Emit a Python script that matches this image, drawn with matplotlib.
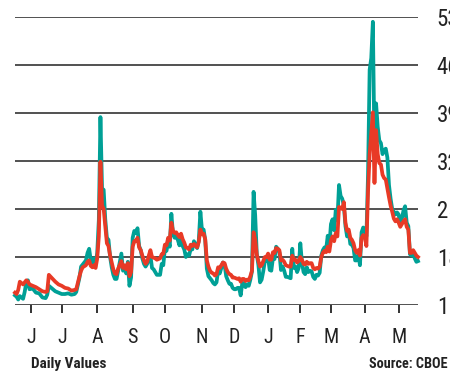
import matplotlib
matplotlib.use("Agg")
import matplotlib.pyplot as plt
import pandas as pd

# Exchange holidays inside the plotted window (x axis counts trading days)
holidays = ["2024-05-27", "2024-06-19", "2024-07-04", "2024-09-02", "2024-11-28",
            "2024-12-25", "2025-01-01", "2025-01-09", "2025-01-20", "2025-02-17",
            "2025-04-18"]

dates = [
    "2024-05-17", "2024-05-20", "2024-05-21", "2024-05-22", "2024-05-24", "2024-05-28",
    "2024-05-29", "2024-05-30", "2024-05-31", "2024-06-04", "2024-06-06", "2024-06-10",
    "2024-06-12", "2024-06-14", "2024-06-17", "2024-06-18", "2024-06-21", "2024-06-25",
    "2024-06-27", "2024-07-01", "2024-07-03", "2024-07-08", "2024-07-10", "2024-07-12",
    "2024-07-15", "2024-07-17", "2024-07-18", "2024-07-19", "2024-07-23", "2024-07-24",
    "2024-07-25", "2024-07-26", "2024-07-29", "2024-07-30", "2024-07-31", "2024-08-01",
    "2024-08-02", "2024-08-05", "2024-08-06", "2024-08-07", "2024-08-08", "2024-08-09",
    "2024-08-12", "2024-08-13", "2024-08-14", "2024-08-15", "2024-08-16", "2024-08-19",
    "2024-08-20", "2024-08-22", "2024-08-23", "2024-08-26", "2024-08-27", "2024-08-28",
    "2024-08-29", "2024-08-30", "2024-09-03", "2024-09-04", "2024-09-05", "2024-09-06",
    "2024-09-09", "2024-09-10", "2024-09-11", "2024-09-12", "2024-09-13", "2024-09-16",
    "2024-09-17", "2024-09-18", "2024-09-19", "2024-09-20", "2024-09-23", "2024-09-24",
    "2024-09-25", "2024-09-26", "2024-09-27", "2024-09-30", "2024-10-01", "2024-10-02",
    "2024-10-03", "2024-10-04", "2024-10-07", "2024-10-08", "2024-10-09", "2024-10-10",
    "2024-10-11", "2024-10-14", "2024-10-15", "2024-10-16", "2024-10-17", "2024-10-18",
    "2024-10-21", "2024-10-22", "2024-10-23", "2024-10-24", "2024-10-25", "2024-10-28",
    "2024-10-29", "2024-10-30", "2024-10-31", "2024-11-01", "2024-11-04", "2024-11-05",
    "2024-11-06", "2024-11-07", "2024-11-08", "2024-11-11", "2024-11-12", "2024-11-13",
    "2024-11-14", "2024-11-15", "2024-11-18", "2024-11-19", "2024-11-20", "2024-11-21",
    "2024-11-22", "2024-11-25", "2024-11-26", "2024-11-27", "2024-11-29", "2024-12-02",
    "2024-12-03", "2024-12-04", "2024-12-05", "2024-12-06", "2024-12-09", "2024-12-10",
    "2024-12-11", "2024-12-12", "2024-12-13", "2024-12-16", "2024-12-17", "2024-12-18",
    "2024-12-19", "2024-12-20", "2024-12-23", "2024-12-24", "2024-12-26", "2024-12-27",
    "2024-12-30", "2024-12-31", "2025-01-02", "2025-01-03", "2025-01-06", "2025-01-07",
    "2025-01-08", "2025-01-10", "2025-01-13", "2025-01-14", "2025-01-15", "2025-01-16",
    "2025-01-17", "2025-01-21", "2025-01-22", "2025-01-23", "2025-01-24", "2025-01-27",
    "2025-01-28", "2025-01-29", "2025-01-30", "2025-01-31", "2025-02-03", "2025-02-04",
    "2025-02-05", "2025-02-06", "2025-02-07", "2025-02-10", "2025-02-11", "2025-02-12",
    "2025-02-13", "2025-02-14", "2025-02-18", "2025-02-19", "2025-02-20", "2025-02-21",
    "2025-02-24", "2025-02-25", "2025-02-26", "2025-02-27", "2025-02-28", "2025-03-03",
    "2025-03-04", "2025-03-05", "2025-03-06", "2025-03-07", "2025-03-10", "2025-03-11",
    "2025-03-12", "2025-03-13", "2025-03-14", "2025-03-17", "2025-03-18", "2025-03-19",
    "2025-03-20", "2025-03-21", "2025-03-24", "2025-03-25", "2025-03-26", "2025-03-27",
    "2025-03-28", "2025-03-31", "2025-04-01", "2025-04-02", "2025-04-03", "2025-04-04",
    "2025-04-07", "2025-04-08", "2025-04-09", "2025-04-10", "2025-04-11", "2025-04-14",
    "2025-04-15", "2025-04-16", "2025-04-17", "2025-04-21", "2025-04-22", "2025-04-23",
    "2025-04-24", "2025-04-25", "2025-04-28", "2025-04-29", "2025-04-30", "2025-05-01",
    "2025-05-02", "2025-05-05", "2025-05-06", "2025-05-07", "2025-05-08", "2025-05-09",
    "2025-05-12", "2025-05-13", "2025-05-14", "2025-05-15", "2025-05-16", "2025-05-19",
]

vix = [
    12.4, 12.2, 11.8, 12.3, 11.9, 12.9, 14.3, 14.6, 13.3, 13.4, 12.8, 12.7,
    12.1, 12.0, 12.5, 13.8, 13.4, 13.0, 12.8, 12.6, 12.6, 12.7, 12.5, 12.6,
    12.9, 15.0, 16.6, 16.9, 17.5, 18.6, 19.2, 17.5, 17.0, 17.8, 16.9, 18.6,
    23.4, 38.4, 28.0, 27.8, 23.5, 20.8, 20.5, 18.0, 16.5, 15.4, 14.8, 14.8,
    16.0, 18.5, 16.0, 16.5, 15.6, 17.3, 13.8, 15.0, 20.8, 21.8, 21.5, 22.2,
    19.6, 19.0, 17.8, 17.0, 16.6, 17.0, 17.6, 18.2, 16.4, 16.2, 15.8, 15.4,
    15.4, 15.4, 17.0, 16.8, 19.3, 18.9, 20.5, 19.5, 24.3, 21.4, 20.8, 21.0,
    20.5, 19.7, 20.6, 19.6, 19.1, 18.0, 18.4, 18.2, 19.2, 19.1, 20.3, 19.8,
    19.3, 20.4, 24.6, 21.9, 22.0, 20.5, 16.3, 15.2, 14.9, 14.6, 14.2, 14.0,
    14.3, 16.0, 15.6, 16.4, 17.2, 16.9, 15.2, 14.6, 14.1, 14.1, 13.5, 13.3,
    13.3, 13.5, 13.5, 12.4, 14.2, 14.2, 13.6, 14.0, 13.8, 14.7, 15.9, 27.5,
    24.1, 18.4, 16.8, 14.3, 14.7, 15.9, 17.4, 17.4, 17.9, 16.1, 16.0, 17.8,
    17.7, 19.5, 19.2, 18.7, 16.1, 16.6, 16.0, 15.1, 15.1, 15.0, 14.9, 19.2,
    16.4, 16.6, 15.8, 16.4, 20.0, 17.2, 15.8, 15.5, 16.5, 15.8, 16.0, 15.9,
    15.1, 14.8, 15.4, 15.3, 15.7, 18.2, 19.0, 19.4, 19.1, 21.1, 19.6, 22.8,
    23.5, 21.9, 24.9, 23.4, 28.5, 26.9, 26.5, 25.5, 22.5, 21.0, 21.7, 19.9,
    19.8, 19.3, 17.5, 17.5, 18.3, 16.8, 21.6, 22.3, 21.8, 21.0, 30.0, 45.3,
    47.0, 52.3, 33.6, 40.4, 37.0, 35.0, 34.6, 33.0, 33.6, 33.8, 32.5, 28.5,
    26.5, 25.0, 24.6, 24.2, 24.5, 24.2, 22.7, 23.6, 24.8, 25.4, 23.0, 22.5,
    18.4, 18.2, 18.6, 17.8, 17.3, 17.4,
]

vix3m = [
    12.8, 12.6, 13.2, 14.4, 14.0, 14.3, 14.6, 14.4, 14.0, 13.8, 13.6, 13.3,
    13.0, 12.9, 13.0, 15.4, 14.9, 14.4, 14.0, 13.8, 13.5, 13.4, 13.1, 13.2,
    13.3, 15.2, 16.0, 16.5, 16.8, 17.3, 17.5, 16.7, 16.5, 16.8, 16.4, 17.8,
    21.0, 31.9, 25.5, 25.0, 22.5, 20.0, 19.6, 18.2, 17.2, 16.2, 15.6, 15.5,
    16.3, 17.4, 16.4, 16.8, 16.2, 17.1, 15.2, 15.8, 19.5, 20.3, 20.3, 20.8,
    19.4, 19.0, 18.2, 17.5, 17.0, 17.3, 18.2, 19.0, 18.0, 17.9, 17.8, 17.6,
    17.7, 17.8, 18.4, 18.5, 19.8, 19.7, 20.8, 20.4, 23.0, 21.8, 21.5, 21.6,
    21.2, 20.9, 21.4, 20.6, 20.1, 19.4, 19.3, 19.1, 19.8, 19.6, 19.9, 19.6,
    19.4, 20.2, 22.0, 21.3, 21.4, 20.6, 17.5, 16.6, 16.0, 15.7, 15.6, 15.3,
    15.5, 16.5, 16.4, 16.8, 17.2, 17.1, 16.3, 15.8, 15.5, 15.4, 15.0, 15.0,
    14.9, 14.8, 14.9, 14.4, 14.8, 14.8, 14.5, 14.7, 14.6, 15.2, 16.0, 21.6,
    20.5, 18.3, 17.4, 16.6, 16.8, 17.4, 18.0, 18.0, 18.5, 17.6, 17.6, 18.7,
    18.6, 19.3, 19.2, 19.0, 17.5, 17.6, 17.3, 16.8, 16.7, 16.6, 16.6, 18.2,
    17.6, 17.6, 17.2, 17.4, 18.0, 17.6, 17.0, 16.9, 17.3, 17.0, 17.1, 17.1,
    16.4, 16.2, 16.4, 16.3, 16.6, 18.0, 18.6, 18.9, 18.7, 19.5, 18.8, 20.4,
    21.0, 20.3, 21.5, 21.0, 25.3, 25.2, 25.0, 26.0, 23.0, 21.8, 22.0, 20.8,
    20.5, 20.0, 19.0, 18.6, 19.0, 18.2, 20.8, 21.2, 21.0, 19.6, 27.5, 33.0,
    36.0, 39.1, 28.8, 36.5, 33.0, 31.7, 31.5, 30.0, 29.5, 29.3, 28.0, 26.7,
    25.5, 24.6, 23.6, 23.2, 23.5, 23.0, 22.4, 22.8, 23.2, 23.5, 22.4, 22.0,
    18.6, 18.6, 19.0, 18.6, 18.2, 18.0,
]

y_ticks = [11, 18, 25, 32, 39, 46, 53]
month_labels = ["J", "J", "A", "S", "O", "N", "D", "J", "F", "M", "A", "M"]

TEAL = "#00a096"
RED = "#e83a26"
INK = "#222222"
FONT = ["Roboto Condensed", "DejaVu Sans"]

# trading-day calendar -> integer x positions
days = pd.bdate_range("2024-05-17", "2025-05-19", freq="C", holidays=holidays)
xpos = days.get_indexer(pd.to_datetime(dates))
first_of_month = pd.Series(range(len(days)), index=days).groupby(days.to_period("M")).min()
month_ticks = first_of_month.values[1:]

fig = plt.figure(figsize=(4.5, 3.74), dpi=100)
ax = fig.add_axes([15 / 450, 1 - 305 / 374, 403 / 450, 288 / 374])

for v in y_ticks:
    ax.axhline(v, color=INK, lw=1.1, zorder=1)

ax.plot(xpos, vix, color=TEAL, lw=2.7, zorder=2, clip_on=False)
ax.plot(xpos, vix3m, color=RED, lw=2.7, zorder=3, clip_on=False)

ax.set_xlim(0, len(days) - 1)
ax.set_ylim(11, 53)
for s in ax.spines.values():
    s.set_visible(False)

ax.set_xticks(month_ticks)
ax.set_xticklabels(month_labels, family=FONT, fontsize=14.5, color=INK)
ax.tick_params(axis="x", length=5.8, width=1.4, color="#333333", pad=11)

ax.yaxis.tick_right()
ax.set_yticks(y_ticks)
ax.set_yticklabels([str(v) for v in y_ticks], family=FONT, fontsize=16.5, color=INK)
ax.tick_params(axis="y", length=0, pad=13.5)

fig.text(31 / 450, 1 - 364 / 374, "Daily Values", family=FONT, fontsize=11,
         fontweight="bold", color=INK, va="center", ha="left")
fig.text(369 / 450, 1 - 364 / 374, "Source: CBOE", family=FONT, fontsize=10.3,
         fontweight="bold", color=INK, va="center", ha="left")

fig.savefig("out.png", dpi=100)
